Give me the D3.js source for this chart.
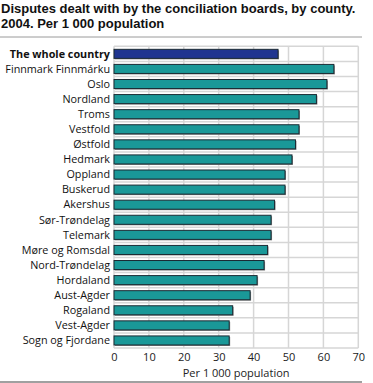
<!DOCTYPE html>
<html><head><meta charset="utf-8">
<script src="https://cdn.jsdelivr.net/npm/d3@7"></script>
<style>body{margin:0;background:#fff}svg{display:block}</style>
</head><body>
<svg id="c" width="373" height="383"></svg>
<script>
const categories = ["The whole country","Finnmark Finnmárku","Oslo","Nordland","Troms","Vestfold","Østfold","Hedmark","Oppland","Buskerud","Akershus","Sør-Trøndelag","Telemark","Møre og Romsdal","Nord-Trøndelag","Hordaland","Aust-Agder","Rogaland","Vest-Agder","Sogn og Fjordane"];
const values = [47,63,61,58,53,53,52,51,49,49,46,45,45,44,43,41,39,34,33,33];
const xTicks = [0,10,20,30,40,50,60,70];
const titleLines = ["Disputes dealt with by the conciliation boards, by county.","2004. Per 1 000 population"];
const axisTitle = "Per 1 000 population";

const svg = d3.select("#c");
const font = "'Open Sans', 'DejaVu Sans', sans-serif";
const titleFont = "'Liberation Sans', Arial, sans-serif";
const m = {left:114, right:358.3, top:46.3, bottom:348};
const x = d3.scaleLinear().domain([0,70]).range([m.left, m.right]);
const y = d3.scaleBand().domain(categories).range([m.top, m.bottom]).paddingInner(0.4).paddingOuter(0.2);

// title
const tt = svg.append("g").selectAll("text").data(titleLines).join("text")
  .attr("x", 1).attr("y", (d,i)=>12.5 + i*15.6)
  .attr("font-family", titleFont).attr("font-weight", "bold").attr("font-size", 13)
  .attr("fill", "#111").text(d=>d);
// fit first line to reference width
const w0 = tt.nodes()[0].getComputedTextLength();
if (w0 > 364) tt.attr("textLength", null).attr("font-size", 13*364/w0);
svg.append("line").attr("x1",0).attr("x2",362).attr("y1",37).attr("y2",37)
  .attr("stroke","#9a9a9a").attr("stroke-width",1);
svg.append("line").attr("x1",0).attr("x2",362).attr("y1",382).attr("y2",382)
  .attr("stroke","#a0a0a0").attr("stroke-width",2);

// grid
const rowLines = d3.range(categories.length+1).map(i => m.top + i*(m.bottom-m.top)/categories.length);
svg.append("g").selectAll("line").data(rowLines).join("line")
  .attr("x1", m.left).attr("x2", m.right).attr("y1", d=>d).attr("y2", d=>d)
  .attr("stroke","#d6d6d6").attr("stroke-width",1.5);
svg.append("g").selectAll("line").data(xTicks).join("line")
  .attr("x1", d=>x(d)).attr("x2", d=>x(d)).attr("y1", m.top).attr("y2", m.bottom)
  .attr("stroke","#d6d6d6").attr("stroke-width",1.5);

// bars shadow
const bars = svg.append("g");
bars.selectAll("rect.sh").data(values).join("rect").attr("class","sh")
  .attr("x", x(0)+1).attr("y", (d,i)=>y(categories[i])+1)
  .attr("width", d=>x(d)-x(0)).attr("height", y.bandwidth())
  .attr("fill","#8a8a8a");
bars.selectAll("rect.b").data(values).join("rect").attr("class","b")
  .attr("x", x(0)).attr("y", (d,i)=>y(categories[i]))
  .attr("width", d=>x(d)-x(0)).attr("height", y.bandwidth())
  .attr("fill", (d,i)=> i===0 ? "#1f3590" : "#1a9898")
  .attr("stroke","#1b2a33").attr("stroke-width",1);

// category labels
svg.append("g").selectAll("text").data(categories).join("text")
  .attr("x", 110).attr("y", d=>y(d)+y.bandwidth()/2)
  .attr("dy","0.35em").attr("text-anchor","end")
  .attr("font-family", font).attr("font-size", 10.8)
  .attr("font-weight", (d,i)=> i===0 ? "bold" : "normal")
  .attr("fill","#111").text(d=>d);

// x axis labels
const xa = d3.axisBottom(x).tickValues(xTicks).tickSize(0).tickPadding(0);
const g = svg.append("g").attr("transform",`translate(0,${m.bottom})`).call(xa);
g.select(".domain").remove();
g.selectAll("text").attr("font-family", font).attr("font-size", 11).attr("fill","#222")
  .attr("y", 5);
svg.append("text").attr("x", x(35)).attr("y", 376.5).attr("text-anchor","middle")
  .attr("font-family", font).attr("font-size", 11).attr("fill","#222").text(axisTitle);
</script>
</body></html>
